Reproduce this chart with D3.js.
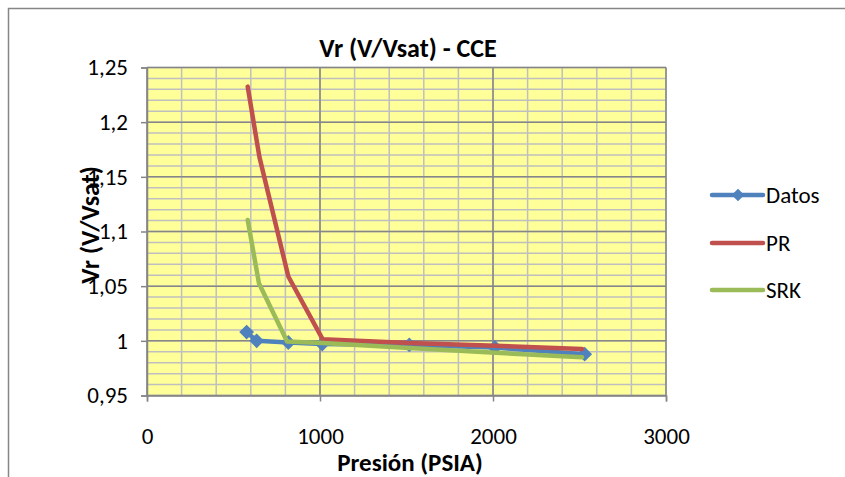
<!DOCTYPE html>
<html>
<head>
<meta charset="utf-8">
<script src="https://cdn.jsdelivr.net/npm/d3@7"></script>
<style>
  body { margin: 0; background: #fff; }
  text { font-family: Carlito, Calibri, Lato, "Open Sans", sans-serif; }
</style>
</head>
<body>
<svg id="chart" width="845" height="477"></svg>
<script>
const title = "Vr (V/Vsat) - CCE";
const xLabel = "Presión (PSIA)";
const yLabel = "Vr (V/Vsat)";

const datosP = [576, 634, 817, 1013, 1516, 2011, 2530];
const datosV = [1.008, 1.000, 0.9985, 0.997, 0.9963, 0.9939, 0.9878];
const prP = [582, 650, 817, 1015, 1515, 2015, 2515];
const prV = [1.2325, 1.168, 1.0588, 1.0015, 0.998, 0.9955, 0.9925];
const srkP = [582, 647, 810, 1015, 1515, 2015, 2515];
const srkV = [1.1106, 1.0527, 0.9994, 0.998, 0.9935, 0.989, 0.985];

const seriesNames = ["Datos", "PR", "SRK"];
const seriesColors = ["#4F81BD", "#C0504D", "#9BBB59"];

const xTicks = [0, 1000, 2000, 3000];
const yTicks = [0.95, 1, 1.05, 1.1, 1.15, 1.2, 1.25];
const fmtY = d => String(+d.toFixed(2)).replace(".", ",");

const svg = d3.select("#chart");
const pLeft = 147, pRight = 666, pTop = 67.5, pBottom = 395.5;

const x = d3.scaleLinear().domain([0, 3000]).range([pLeft, pRight]);
const y = d3.scaleLinear().domain([0.95, 1.25]).range([pBottom, pTop]);

// outer border
svg.append("rect").attr("x", 8.5).attr("y", 8.5).attr("width", 900).attr("height", 500)
  .attr("fill", "none").attr("stroke", "#868686").attr("stroke-width", 1.5);

// plot background
svg.append("rect").attr("x", pLeft).attr("y", pTop).attr("width", pRight - pLeft).attr("height", pBottom - pTop)
  .attr("fill", "#FFFF99");

// minor gridlines
const g = svg.append("g");
const xMinor = d3.range(0, 3001, 200);
const yMinor = d3.range(0, 31).map(i => 0.95 + i * 0.01);
g.selectAll(".vxm").data(xMinor).enter().append("line")
  .attr("x1", d => x(d)).attr("x2", d => x(d)).attr("y1", pTop).attr("y2", pBottom)
  .attr("stroke", "#BFBFBF").attr("stroke-width", 1.5);
g.selectAll(".hym").data(yMinor).enter().append("line")
  .attr("x1", pLeft).attr("x2", pRight).attr("y1", d => y(d)).attr("y2", d => y(d))
  .attr("stroke", "#BFBFBF").attr("stroke-width", 1.5);
// major gridlines
g.selectAll(".vx").data(xTicks).enter().append("line")
  .attr("x1", d => x(d)).attr("x2", d => x(d)).attr("y1", pTop).attr("y2", pBottom)
  .attr("stroke", "#868686").attr("stroke-width", 1.5);
g.selectAll(".hy").data(yTicks).enter().append("line")
  .attr("x1", pLeft).attr("x2", pRight).attr("y1", d => y(d)).attr("y2", d => y(d))
  .attr("stroke", "#868686").attr("stroke-width", 1.5);

// axes
const yAxis = d3.axisLeft(y).tickValues(yTicks).tickFormat(fmtY).tickSize(6).tickPadding(13);
const yg = svg.append("g").attr("transform", `translate(${pLeft},0)`).call(yAxis);
const xAxis = d3.axisBottom(x).tickValues(xTicks).tickFormat(d3.format("d")).tickSize(6).tickPadding(26);
const xg = svg.append("g").attr("transform", `translate(0,${pBottom})`).call(xAxis);
[yg, xg].forEach(a => {
  a.select(".domain").attr("stroke", "#868686").attr("stroke-width", 1.5);
  a.selectAll(".tick line").attr("stroke", "#868686").attr("stroke-width", 1.5);
  a.selectAll(".tick text").attr("fill", "#000").style("font-size", "23px")
    .style("font-family", "Carlito, Calibri, Lato, sans-serif");
});

// series
const line = d3.line().x(d => x(d[0])).y(d => y(d[1]));
const datos = datosP.map((p, i) => [p, datosV[i]]);
const pr = prP.map((p, i) => [p, prV[i]]);
const srk = srkP.map((p, i) => [p, srkV[i]]);

svg.append("path").datum(datos).attr("d", line).attr("fill", "none")
  .attr("stroke", seriesColors[0]).attr("stroke-width", 4.5).attr("stroke-linejoin", "round").attr("stroke-linecap", "round");
svg.selectAll(".dm").data(datos).enter().append("path")
  .attr("d", d3.symbol().type(d3.symbolSquare).size(110))
  .attr("transform", d => `translate(${x(d[0])},${y(d[1])}) rotate(45)`)
  .attr("fill", seriesColors[0]);
svg.append("path").datum(pr).attr("d", line).attr("fill", "none")
  .attr("stroke", seriesColors[1]).attr("stroke-width", 4.5).attr("stroke-linejoin", "round").attr("stroke-linecap", "round");
svg.append("path").datum(srk).attr("d", line).attr("fill", "none")
  .attr("stroke", seriesColors[2]).attr("stroke-width", 4.5).attr("stroke-linejoin", "round").attr("stroke-linecap", "round");

// title and axis labels
svg.append("text").attr("x", 408).attr("y", 57).attr("text-anchor", "middle")
  .style("font-size", "26px").style("font-weight", "bold").text(title);
svg.append("text").attr("x", 410).attr("y", 471).attr("text-anchor", "middle")
  .style("font-size", "25px").style("font-weight", "bold").text(xLabel);
svg.append("text").attr("transform", "translate(99,225) rotate(-90)").attr("text-anchor", "middle")
  .style("font-size", "26px").style("font-weight", "bold").text(yLabel);

// legend
const legY = [195, 243, 290];
seriesNames.forEach((name, i) => {
  const lg = svg.append("g");
  lg.append("line").attr("x1", 712).attr("x2", 763).attr("y1", legY[i]).attr("y2", legY[i])
    .attr("stroke", seriesColors[i]).attr("stroke-width", 4.5).attr("stroke-linecap", "round");
  if (i === 0) {
    lg.append("path").attr("d", d3.symbol().type(d3.symbolSquare).size(80))
      .attr("transform", `translate(738,${legY[i]}) rotate(45)`).attr("fill", seriesColors[i]);
  }
  lg.append("text").attr("x", 766).attr("y", legY[i]).attr("dy", "0.35em")
    .style("font-size", "23px").text(name);
});
</script>
</body>
</html>
